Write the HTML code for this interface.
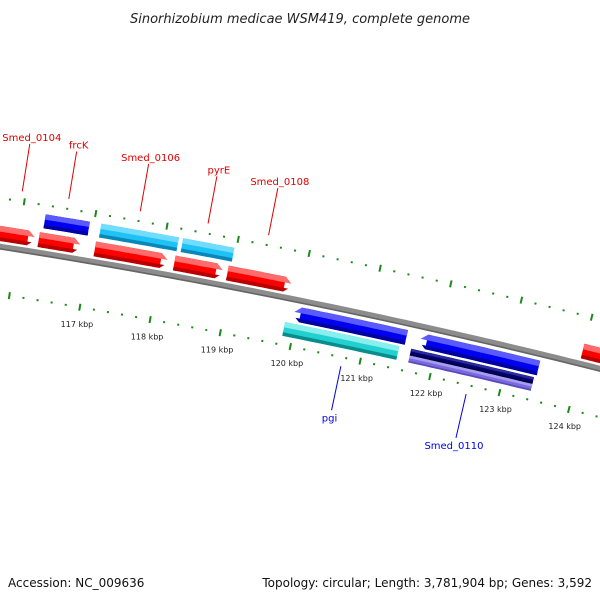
<!DOCTYPE html>
<html><head><meta charset="utf-8"><style>
html,body{margin:0;padding:0;background:#fff;}
svg{display:block;font-family:"DejaVu Sans","Liberation Sans",sans-serif;}
</style></head><body>
<svg id="map" width="600" height="600" viewBox="0 0 600 600" xmlns="http://www.w3.org/2000/svg">
<rect width="600" height="600" fill="#fff"/>
<text x="300" y="23" text-anchor="middle" font-size="13" font-style="italic" fill="#222">Sinorhizobium medicae WSM419, complete genome</text>
<g id="content"></g>
<text x="8" y="587" font-size="12" fill="#111">Accession: NC_009636</text>
<text x="592" y="587" text-anchor="end" font-size="12" fill="#111">Topology: circular; Length: 3,781,904 bp; Genes: 3,592</text>
</svg>
<script>
// Data (positions in kbp)
const geneStarts = [115.6, 116.28, 117.07, 118.19, 118.94, 123.99, 116.32, 117.10, 118.25, 119.93, 121.73, 119.86, 121.66, 121.66];
const geneEnds   = [116.25, 116.89, 118.12, 118.90, 119.87, 124.6, 116.94, 118.19, 118.97, 121.56, 123.45, 121.49, 123.42, 123.42];
const geneLanes  = ['f1','f1','f1','f1','f1','f1','f2','f2','f2','r1','r1','r2','r2top','r2bot'];
const geneColors = ['red','red','red','red','red','red','blue','cyan','cyan','blue','blue','teal','navy','purple'];
const geneDirs   = ['f','f','f','f','f','f','n','n','n','r','r','n','n','n'];
const outerLabels = ['Smed_0104','frcK','Smed_0106','pyrE','Smed_0108'];
const outerLabelPos = [115.95, 116.6, 117.6, 118.55, 119.4];
const innerLabels = ['pgi','Smed_0110'];
const innerLabelPos = [120.75, 122.55];
const tickKbp = [117,118,119,120,121,122,123,124,125];
const tickLabels = ['117 kbp','118 kbp','119 kbp','120 kbp','121 kbp','122 kbp','123 kbp','124 kbp','125 kbp'];

const NS='http://www.w3.org/2000/svg';
const g=document.getElementById('content');
const CX=-1036, CY=6866, R0=6700, TH=0.2007, K=0.01073;
function pt(bp,off){const t=TH+(bp-120)*K, r=R0+off;return [CX+r*Math.sin(t), CY-r*Math.cos(t)];}
function mk(tag,attrs){const e=document.createElementNS(NS,tag);for(const a in attrs)e.setAttribute(a,attrs[a]);g.appendChild(e);return e;}
function arcPts(b1,b2,off,n){const p=[];for(let i=0;i<=n;i++)p.push(pt(b1+(b2-b1)*i/n,off));return p;}
function str(p){return p.map(q=>q[0].toFixed(1)+','+q[1].toFixed(1)).join(' ');}

let bb=arcPts(115,125,0,60);
let e=mk('polyline',{points:str(bb),fill:'none',stroke:'#8c8c8c','stroke-width':6});


e=mk('polyline',{points:str(arcPts(115,125,-2.2,60)),fill:'none',stroke:'#666','stroke-width':1.6});



function ruler(off,name,labels){
  for(let b=115;b<=125.001;b+=0.2){
    const bp=Math.round(b*10)/10;
    const major=Math.abs(bp-Math.round(bp))<0.01;
    const len=major?3.5:1;
    const a=pt(bp,off-len),c=pt(bp,off+len);
    const t=mk('line',{x1:a[0],y1:a[1],x2:c[0],y2:c[1],stroke:'#1a8a1a','stroke-width':2});
    
    
  }
  if(labels){
    tickKbp.forEach((v,i)=>{
      const p=pt(v,off-17);
      const t=mk('text',{x:p[0],y:p[1]+3,'text-anchor':'middle','font-size':8,fill:'#222'});
      t.textContent=tickLabels[i];
      
      
    });
  }
}
ruler(48,'outer-ruler',false);
ruler(-47,'inner-ruler',true);

const laneOff={f1:13,f2:32,r1:-14,r2:-31,r2top:-27.5,r2bot:-34.5};
const laneH={f1:15,f2:14,r1:15,r2:14,r2top:7,r2bot:7};
const pal={red:['#ff0000','#ff6a6a','#b80000'],blue:['#0000f0','#5a5aff','#00009c'],
 cyan:['#1ec2f5','#70dcff','#0a86b8'],teal:['#22d0d0','#88eeee','#0a8c8c'],
 navy:['#00006e','#2a2a9a','#000040'],purple:['#7a6ae0','#a89cf0','#5a4cb8']};
const AH=0.12;
function shape(b1,b2,off,h,dir,f0,f1){
  const lo=off-h/2, n=16;
  const oA=lo+h*f0, oB=lo+h*f1, mid=off;
  let s1=b1,s2=b2;
  if(dir==='f')s2=b2-AH; if(dir==='r')s1=b1+AH;
  const outer=arcPts(s1,s2,oB,n), inner=arcPts(s1,s2,oA,n).reverse();
  const pts=[];
  if(dir==='r'){
    const tipA=b1+AH*Math.abs(oA-mid)/(h/2), tipB=b1+AH*Math.abs(oB-mid)/(h/2);
    pts.push(pt(tipB,oB));pts.push(...outer);
    pts.push(...inner);pts.push(pt(tipA,oA));
  } else if(dir==='f'){
    const tipA=b2-AH*Math.abs(oA-mid)/(h/2), tipB=b2-AH*Math.abs(oB-mid)/(h/2);
    pts.push(...outer);pts.push(pt(tipB,oB));pts.push(pt(tipA,oA));pts.push(...inner);
  } else {pts.push(...outer);pts.push(...inner);}
  return str(pts);
}
geneStarts.forEach((s,i)=>{
  const ln=geneLanes[i],off=laneOff[ln],h=laneH[ln],c=pal[geneColors[i]],d=geneDirs[i];
  const grp=document.createElementNS(NS,'g');g.appendChild(grp);
  
  
  [[0,1,c[0]],[0.62,1,c[1]],[0,0.25,c[2]]].forEach(b=>{
    const p=document.createElementNS(NS,'polygon');
    p.setAttribute('points',shape(s,geneEnds[i],off,h,d,b[0],b[1]));
    p.setAttribute('fill',b[2]);
    grp.appendChild(p);
  });
});

outerLabels.forEach((t,i)=>{
  const a=pt(outerLabelPos[i],58),b=pt(outerLabelPos[i],106);
  const l=mk('line',{x1:a[0],y1:a[1],x2:b[0],y2:b[1],stroke:'#e00000','stroke-width':1});
  
  
  const tx=mk('text',{x:b[0]+2,y:b[1]-3,'text-anchor':'middle','font-size':10,fill:'#e00000'});
  tx.textContent=t;
  
  
});
innerLabels.forEach((t,i)=>{
  const a=pt(innerLabelPos[i],-56),b=pt(innerLabelPos[i],-101);
  const l=mk('line',{x1:a[0],y1:a[1],x2:b[0],y2:b[1],stroke:'#0000e0','stroke-width':1});
  
  
  const tx=mk('text',{x:b[0]-2,y:b[1]+11,'text-anchor':'middle','font-size':10,fill:'#0000e0'});
  tx.textContent=t;
  
  
});
</script>
</body></html>
